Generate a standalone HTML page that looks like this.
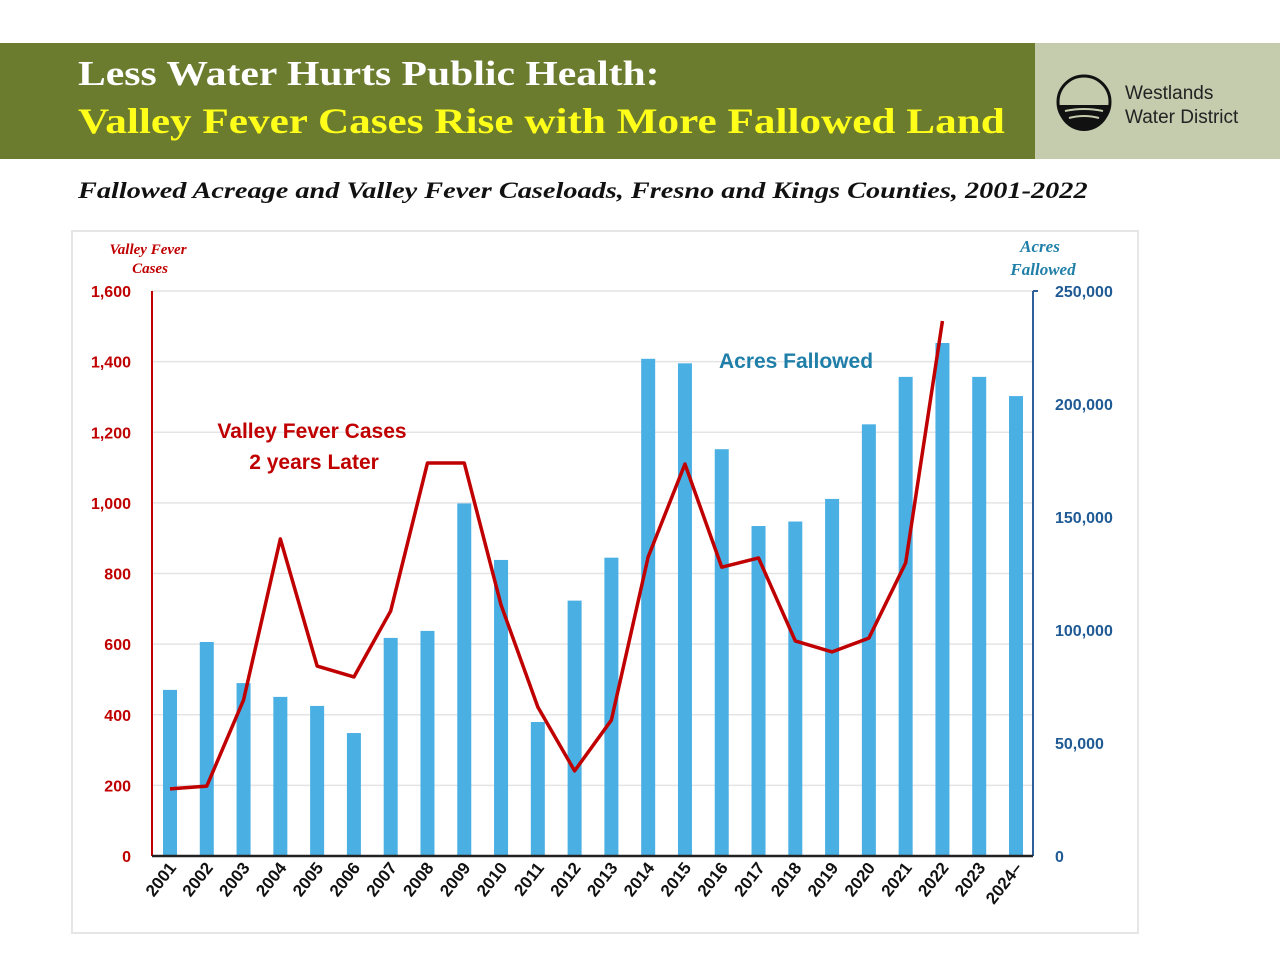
<!DOCTYPE html>
<html><head><meta charset="utf-8"><style>
body{margin:0;width:1280px;height:960px;background:#fff;overflow:hidden;font-family:"Liberation Sans",sans-serif}
#hdr{position:absolute;left:0;top:43px;width:1035px;height:116px;background:#6b7c2f}
#logo{position:absolute;left:1035px;top:43px;width:245px;height:116px;background:#c5ccae}
.t1{position:absolute;left:78px;top:54px;font:bold 35px "Liberation Serif",serif;color:#fff;transform:scaleX(1.19);transform-origin:left;white-space:nowrap}
.t2{position:absolute;left:78px;top:100px;font:bold 36px "Liberation Serif",serif;color:#ffff1a;transform:scaleX(1.2);transform-origin:left;white-space:nowrap}
</style></head><body>
<div id="hdr"></div>
<div class="t1">Less Water Hurts Public Health:</div>
<div class="t2">Valley Fever Cases Rise with More Fallowed Land</div>
<div id="logo">
<svg width="245" height="116">
<circle cx="49" cy="59" r="26" fill="none" stroke="#111" stroke-width="3"/>
<path d="M23 62 A26 26 0 0 0 75 62 Z" fill="#111"/>
<path d="M30 68 Q49 64 68 68 M34 75 Q49 71 64 75" stroke="#c5ccae" stroke-width="2" fill="none"/>
<text x="90" y="56" font-size="19" fill="#222" font-family="Liberation Sans">Westlands</text>
<text x="90" y="80" font-size="19" fill="#222" font-family="Liberation Sans">Water District</text>
</svg></div>
<div style="position:absolute;left:78px;top:178px;font:italic bold 23px 'Liberation Serif',serif;color:#111;transform:scaleX(1.23);transform-origin:left;white-space:nowrap">Fallowed Acreage and Valley Fever Caseloads, Fresno and Kings Counties, 2001-2022</div>
<svg id="chart" width="1280" height="960" style="position:absolute;left:0;top:0"></svg>
<script>
const years=["2001","2002","2003","2004","2005","2006","2007","2008","2009","2010","2011","2012","2013","2014","2015","2016","2017","2018","2019","2020","2021","2022","2023","2024–"];
const acres=[73500,94700,76500,70400,66400,54400,96500,99600,156000,131000,59300,113000,132000,220000,218000,180000,146000,148000,158000,191000,212000,227000,212000,203500];
const cases=[190,198,442,898,538,507,694,1113,1113,711,422,241,385,847,1110,818,844,609,578,617,830,1515];
const leftTicks=[0,200,400,600,800,1000,1200,1400,1600];
const rightTicks=[0,50000,100000,150000,200000,250000];
const svg=document.getElementById('chart');const NS='http://www.w3.org/2000/svg';
function mk(t,a,txt){const e=document.createElementNS(NS,t);for(const k in a)e.setAttribute(k,a[k]);if(txt!=null)e.textContent=txt;svg.appendChild(e);return e;}
const X0=152,X1=1033,Y0=856,Y1=291;
const xc=i=>170+i*(1016-170)/23;
const yl=v=>Y0-(v/1600)*(Y0-Y1);
const yr=v=>Y0-(v/250000)*(Y0-Y1);
let e=mk('rect',{x:72,y:231,width:1066,height:702,fill:'none',stroke:'#e6e6e6','stroke-width':2});


leftTicks.forEach(v=>{
 if(v>0){e=mk('line',{x1:X0,x2:X1,y1:yl(v),y2:yl(v),stroke:'#e4e4e4','stroke-width':1.5});
 
 }
 e=mk('text',{x:131,y:yl(v)+6,'text-anchor':'end','font-size':16,'font-weight':'bold',fill:'#c00000'},v.toLocaleString('en-US'));
 
 
});
rightTicks.forEach(v=>{
 e=mk('text',{x:1055,y:yr(v)+6,'font-size':16,'font-weight':'bold',fill:'#1f5a94'},v.toLocaleString('en-US'));
 
 
});
acres.forEach((v,i)=>{
 e=mk('rect',{x:xc(i)-7,y:yr(v),width:14,height:Y0-yr(v),fill:'#4aafe3'});
 
 
 e=mk('text',{transform:`translate(${xc(i)+7},${868}) rotate(-52)`,'text-anchor':'end','font-size':17,'font-weight':'bold',fill:'#111'},years[i]);
 
 
});
e=mk('line',{x1:X0,x2:X0,y1:Y1,y2:Y0,stroke:'#c00000','stroke-width':2});


e=mk('line',{x1:X1,x2:X1,y1:Y1,y2:Y0,stroke:'#2f5f99','stroke-width':2});


e=mk('line',{x1:X1,x2:X1+5,y1:Y1,y2:Y1,stroke:'#2f5f99','stroke-width':2});


e=mk('line',{x1:X0,x2:X1,y1:Y0,y2:Y0,stroke:'#222','stroke-width':2.5});


e=mk('polyline',{points:cases.map((v,i)=>xc(i)+','+yl(v)).join(' '),fill:'none',stroke:'#c00000','stroke-width':3.5,'stroke-linejoin':'round'});


const lbl=[[148,254,'Valley Fever','#c00000','italic',15,'Liberation Serif'],[150,273,'Cases','#c00000','italic',15,'Liberation Serif'],[1040,252,'Acres','#1f7fa8','italic',17,'Liberation Serif'],[1043,275,'Fallowed','#1f7fa8','italic',17,'Liberation Serif'],
[312,438,'Valley Fever Cases','#c00000','normal',21,'Liberation Sans'],[314,469,'2 years Later','#c00000','normal',21,'Liberation Sans'],[796,368,'Acres Fallowed','#1f7fa8','normal',21,'Liberation Sans']];
lbl.forEach(l=>{e=mk('text',{x:l[0],y:l[1],'text-anchor':'middle','font-size':l[5],'font-weight':'bold','font-style':l[4],fill:l[3],'font-family':l[6]},l[2]);
 
 });
</script>
</body></html>
